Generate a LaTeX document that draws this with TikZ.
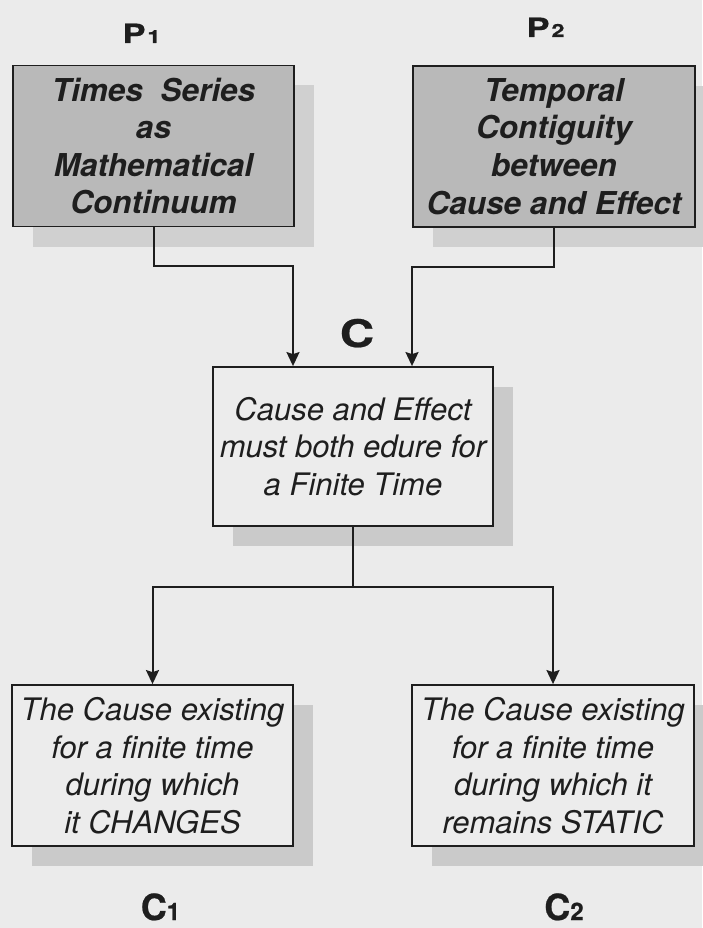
\documentclass[tikz,border=0pt]{standalone}
\usepackage{fontspec}
\setmainfont{TeX Gyre Heros}
\usetikzlibrary{arrows.meta,shadows,calc}
\definecolor{bgc}{HTML}{EBEBEB}
\definecolor{pfill}{HTML}{B9B9B9}
\definecolor{pshadow}{HTML}{D0D0D0}
\definecolor{cfill}{HTML}{ECECEC}
\definecolor{cshadow}{HTML}{CACACA}
\definecolor{ink}{HTML}{1E1E1E}
\tikzset{
  box/.style={draw=ink, line width=1.8pt, rectangle, inner sep=0pt,
    minimum width=281pt, minimum height=161pt, align=center, text=ink},
  pbox/.style={box, fill=pfill, font=\fontsize{31.5}{37.6}\selectfont\bfseries\itshape,
    general shadow={shadow xshift=20pt, shadow yshift=-20pt, fill=pshadow}},
  cbox/.style={box, fill=cfill, font=\fontsize{31}{37.6}\selectfont\itshape,
    general shadow={shadow xshift=20pt, shadow yshift=-20pt, fill=cshadow}},
  lbl/.style={inner sep=0pt, anchor=base, text=ink},
  conn/.style={draw=ink, line width=2pt, -{Stealth[length=14pt,width=13pt,inset=2pt]}},
}
\newcommand{\plabel}[2]{\scalebox{1.3}[1]{\bfseries\addfontfeature{FakeBold=0.6}\fontsize{26.5}{26.5}\selectfont #1\hspace{1.5pt}{\fontsize{18}{18}\selectfont #2}}}
\newcommand{\bigclabel}[1]{\scalebox{1.25}[1]{\bfseries\addfontfeature{FakeBold=0.6}\fontsize{38}{38}\selectfont #1}}
\newcommand{\clabel}[2]{{\bfseries\addfontfeature{FakeBold=0.6}\fontsize{36}{36}\selectfont #1{\fontsize{24}{24}\selectfont #2}}}
\begin{document}
\begin{tikzpicture}[x=1pt,y=-1pt]
\fill[bgc] (0,0) rectangle (702,928);
\useasboundingbox (0,0) rectangle (702,928);

\node[pbox] (p1) at (153.5,146) {Times~ Series\\as\\Mathematical\\Continuum};
\node[pbox, minimum width=282pt] (p2) at (554,146.5) {Temporal\\Contiguity\\between\\Cause and Effect};
\node[cbox, minimum width=280pt, minimum height=159pt] (c) at (353,446.5) {Cause and Effect\\must both edure for\\a Finite Time};
\node[cbox] (c1) at (152.5,765.5) {The Cause existing\\for a finite time\\during which\\it CHANGES};
\node[cbox, minimum width=282pt] (c2) at (553,765.5) {The Cause existing\\for a finite time\\during which it\\remains STATIC};

\node[lbl] (lp1) at (141.5,43) {\plabel{P}{1}};
\node[lbl] (lp2) at (545.5,37) {\plabel{P}{2}};
\node[lbl] (lc) at (357,347) {\bigclabel{C}};
\node[lbl] (lc1) at (160.5,920) {\clabel{C}{1}};
\node[lbl] (lc2) at (564,920) {\clabel{C}{2}};

\coordinate (cin1) at ($(c.north)+(-60,0)$);
\coordinate (cin2) at ($(c.north)+(59,0)$);
\draw[conn] (p1.south) -- ++(0,39) -| (cin1);
\draw[conn] (p2.south) -- ++(0,39) -| (cin2);
\draw[conn] (c.south) -- ++(0,60) -| (c1.north);
\draw[conn] (c.south) -- ++(0,60) -| (c2.north);
\end{tikzpicture}
\end{document}
